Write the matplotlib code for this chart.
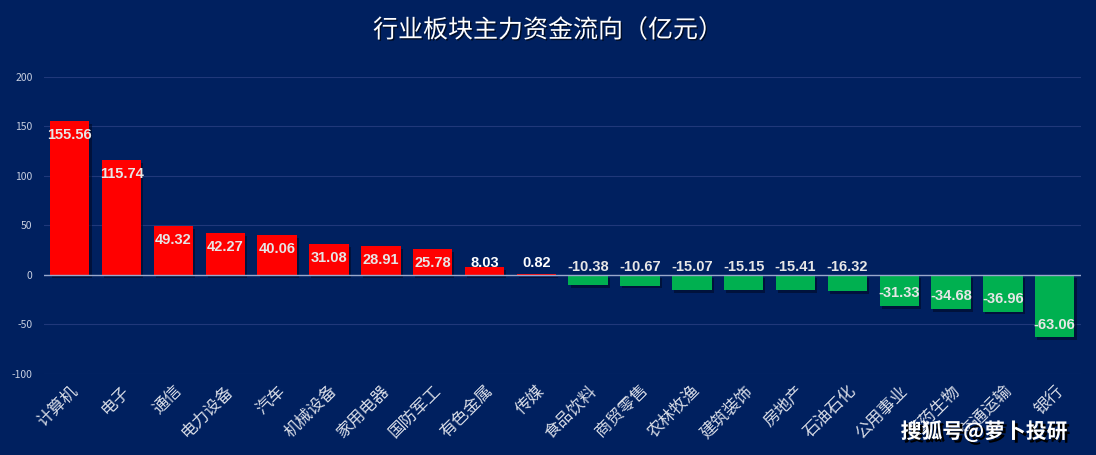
import matplotlib.pyplot as plt
import matplotlib.patheffects as pe

plt.rcParams['font.family'] = ['Noto Sans CJK SC', 'DejaVu Sans']

sectors = ["计算机", "电子", "通信", "电力设备", "汽车", "机械设备", "家用电器", "国防军工", "有色金属", "传媒",
           "食品饮料", "商贸零售", "农林牧渔", "建筑装饰", "房地产", "石油石化", "公用事业", "医药生物", "交通运输", "银行"]
flows = [155.56, 115.74, 49.32, 42.27, 40.06, 31.08, 28.91, 25.78, 8.03, 0.82,
         -10.38, -10.67, -15.07, -15.15, -15.41, -16.32, -31.33, -34.68, -36.96, -63.06]
yticks = [-100, -50, 0, 50, 100, 150, 200]

BG = "#00205f"
RED = "#ff0000"
GREEN = "#00b050"

fig = plt.figure(figsize=(10.96, 4.55), dpi=100, facecolor=BG)
ax = fig.add_axes([0.040, 0.178, 0.946, 0.653])
ax.set_facecolor(BG)

n = len(sectors)
xs = list(range(n))
colors = [RED if v >= 0 else GREEN for v in flows]
shadow = [pe.SimplePatchShadow(offset=(1.5, -2), shadow_rgbFace="#000a25", alpha=0.6), pe.Normal()]
bars = ax.bar(xs, flows, width=0.76, color=colors, zorder=3)
for b in bars:
    b.set_path_effects(shadow)

# value labels
for x, v in zip(xs, flows):
    if v >= 0:
        y = max(v - 14, 12)
        col = "#e6e6e6" if v > 20 else "white"
    else:
        y = v + 13 if v < -20 else 8
        col = "#e6e6e6"
    ax.text(x, y, f"{v:.2f}", ha="center", va="center", color=col, fontsize=10.5,
            fontweight="bold", family=["Liberation Sans", "DejaVu Sans"], zorder=5)

ax.set_xlim(-0.5, n - 0.5)
ax.set_ylim(-100, 200)
ax.set_yticks(yticks)
ax.set_yticklabels([str(t) for t in yticks], color="#c8cfe0", fontsize=7.5)
ax.grid(axis="y", color="#20387a", linewidth=0.8, zorder=0)
ax.axhline(0, color="#9aa8cc", linewidth=1.0, zorder=4)
for s in ax.spines.values():
    s.set_visible(False)
ax.tick_params(axis="both", length=0)
ax.tick_params(axis="y", pad=8)

ax.set_xticks(xs)
ax.set_xticklabels(sectors, rotation=45, ha="right", rotation_mode="anchor",
                   color="#d8dce6", fontsize=12)
ax.tick_params(axis="x", pad=6)

fig.text(0.5, 0.933, "行业板块主力资金流向（亿元）", ha="center", va="center", color="white", fontsize=18,
         path_effects=[pe.withSimplePatchShadow(offset=(1, -1), shadow_rgbFace="black", alpha=0.6)])

fig.text(0.898, 0.052, "搜狐号@萝卜投研", ha="center", va="center", color="white", fontsize=15,
         fontweight="bold",
         path_effects=[pe.withSimplePatchShadow(offset=(2, -2), shadow_rgbFace="black", alpha=1.0)])

fig.savefig("out.png", dpi=100, facecolor=BG)
